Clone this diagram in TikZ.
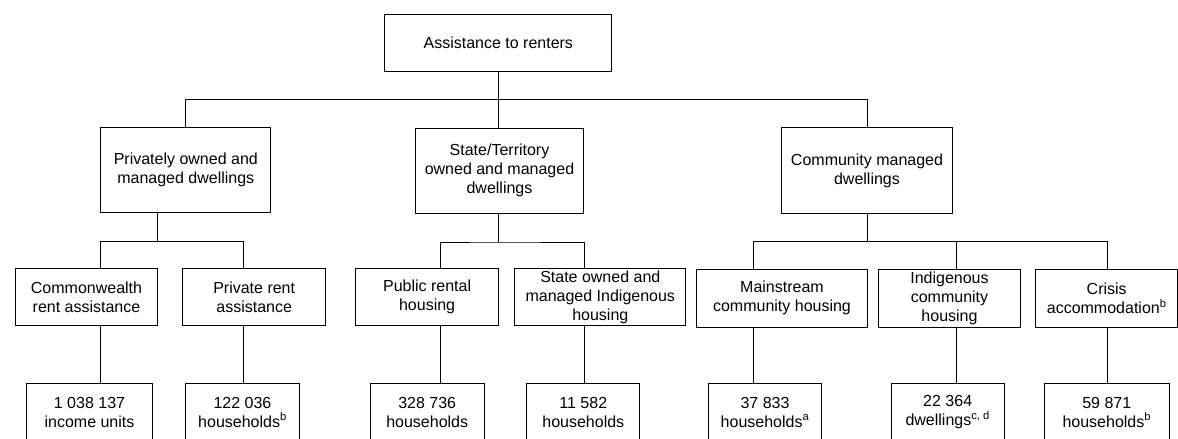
\documentclass[tikz,border=0pt]{standalone}
\usepackage{fontspec}
\setmainfont{Liberation Sans}
\usepackage{tikz}
\usetikzlibrary{calc}

\begin{document}
\begin{tikzpicture}[x=1pt,y=-1pt,
	wire/.style={line width=1pt},
	box/.style={draw, line width=1pt, inner sep=0pt, outer sep=0pt, align=center,
		font=\fontsize{16}{19}\selectfont},
	headbox/.style={box, minimum width=#1, minimum height=85.6},
	subbox/.style={box, minimum width=#1, minimum height=57.4},
	valbox/.style={box, minimum width=#1, minimum height=57.7}]
	\useasboundingbox (0,0) rectangle (1178,439);
	\clip (0,0) rectangle (1178,439);

	\node[box, minimum width=226.7, minimum height=56.7] (top) at (498.3,42.7) {Assistance to renters};

	\node[headbox=170.3] (prv) at (185.8,170) {Privately owned and\\managed dwellings};
	\node[headbox=167.6] (sta) at (499.5,170.8) {State/Territory\\owned and managed\\dwellings};
	\node[headbox=170.6] (com) at (867,170.5) {Community managed\\dwellings};

	\node[subbox=142.4] (cra) at (86.5,297) {Commonwealth\\rent assistance};
	\node[subbox=143] (prr) at (254.2,297) {Private rent\\assistance};
	\node[subbox=142.4] (pub) at (427.1,297) {Public rental\\housing};
	\node[subbox=170.7] (sto) at (600.3,297) {State owned and\\managed Indigenous\\housing};
	\node[subbox=170.6] (mai) at (782,298.3) {Mainstream\\community housing};
	\node[subbox=142.4] (ind) at (949.5,298.3) {Indigenous\\community\\housing};
	\node[subbox=142] (cri) at (1106.7,298.3) {Crisis\\accommodation\textsuperscript{b}};

	\foreach \Name/\Pos/\Wd/\Txt in
	{v1/89.5/125.6/{1 038 137\\income units}, v2/242.5/113.6/{122 036\\households\textsuperscript{b}},
	 v3/427.2/113.6/{328 736\\households}, v4/583.3/113.3/{11 582\\households},
	 v5/765/113.4/{37 833\\households\textsuperscript{a}}, v6/947.7/113.3/{22 364\\dwellings\textsuperscript{c, d}},
	 v7/1106.8/125/{59 871\\households\textsuperscript{b}}}
		\node[valbox=\Wd] (\Name) at (\Pos,412.2) {\Txt};

	% top level
	\draw[wire] (top.south) -- ++(0,28.3) coordinate (b1);
	\draw[wire] (b1) -- (b1 |- sta.north);
	\draw[wire] (prv.north) |- (b1) -| (com.north);

	% second level
	\draw[wire] ([xshift=-28.5]prv.south) -- ++(0,28.4) coordinate (b2);
	\draw[wire] ([xshift=14.2]cra.north) |- (b2) -| ([xshift=-10.7]prr.north);
	\draw[wire] ([xshift=-1.5]sta.south) -- ++(0,28.4) coordinate (b3);
	\draw[wire] ([xshift=13.4]pub.north) |- (b3) -| ([xshift=-16.3]sto.north);
	\draw[wire] (com.south) -- ++(0,28.4) coordinate (b4);
	\draw[wire] ([xshift=-28.7]mai.north) |- (b4) -| ([xshift=0.8]cri.north);
	\draw[wire] ([xshift=6.8]ind.north) -- ([xshift=6.8]ind.north |- b4);

	% down to the counts
	\foreach \Up/\Dn/\Sh in {cra/v1/14.2, prr/v2/-10.7, pub/v3/13.4, sto/v4/-16.3, mai/v5/-28.7, ind/v6/6.8, cri/v7/0.8}
		\draw[wire] ([xshift=\Sh]\Up.south) -- ([xshift=\Sh]\Up.south |- \Dn.north);
\end{tikzpicture}
\end{document}
